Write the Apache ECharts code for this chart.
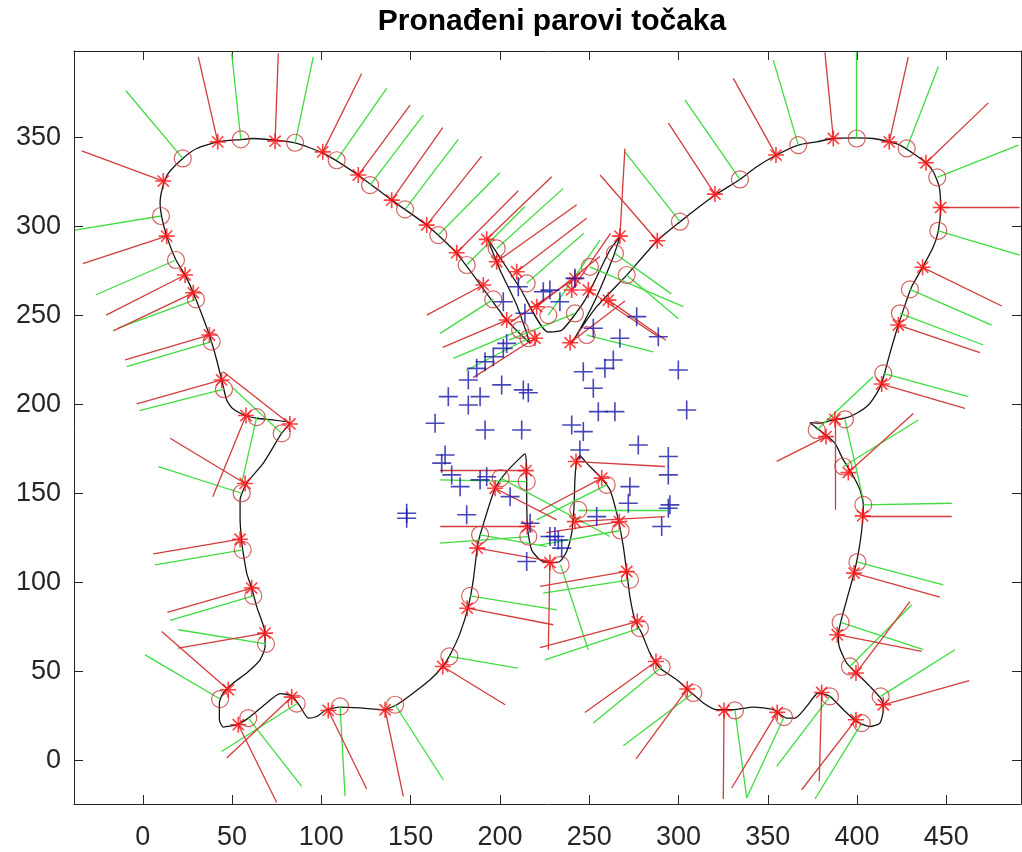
<!DOCTYPE html>
<html><head><meta charset="utf-8">
<script src="https://cdn.jsdelivr.net/npm/echarts@6/dist/echarts.min.js"></script>
<style>html,body{margin:0;padding:0;background:#fff}#c{width:1022px;height:852px}</style>
</head><body><div id="c"></div>
<script>
const titleText = 'Pronađeni parovi točaka';
const xTicks = [0,50,100,150,200,250,300,350,400,450];
const yTicks = [0,50,100,150,200,250,300,350];
const xRange = [-38.5, 491.8];
const yRange = [-24.3, 398.3];

const outline = [
[216.9,234.2],[203.8,247.3],[175.8,284.7],[159.0,300.6],[139.4,314.6],[120.7,328.6],[100.8,341.1],[85.3,346.7],[74.1,348.3],[61.9,349.2],[54.9,348.6],[42.0,347.3],[30.2,343.6],[22.4,338.0],[14.3,329.6],[11.2,322.1],[9.7,312.8],[10.6,305.2],[13.4,294.4],[18.6,281.0],[23.7,272.5],[28.3,262.6],[37.3,238.9],[41.4,224.9],[44.2,213.7],[47.0,202.4],[50.0,198.0],[57.8,193.6],[63.8,192.2],[82.5,189.4],[77.8,183.8],[67.5,167.0],[58.2,155.7],[54.5,146.4],[54.5,135.2],[55.4,123.0],[56.0,118.3],[58.2,105.3],[61.0,96.9],[63.8,86.5],[68.5,71.6],[68.5,64.1],[65.7,56.6],[58.2,49.2],[50.7,43.6],[45.1,38.0],[42.9,32.4],[42.9,23.0],[45.1,18.9],[52.6,20.2],[59.1,23.9],[69.4,32.4],[76.9,37.6],[83.4,36.5],[88.1,30.5],[92.7,23.9],[97.4,24.8],[103.0,28.6],[110.5,30.1],[121.7,29.6],[134.7,28.6],[142.2,31.4],[151.5,38.0],[160.9,45.4],[168.3,53.3],[172.1,59.4],[177.7,71.6],[182.3,86.5],[185.1,101.5],[187.3,119.3],[188.9,126.7],[197.3,152.9],[203.8,162.2],[211.2,169.8],[214.1,172.2],[215.0,163.2],[215.0,148.2],[215.6,129.5],[217.8,118.3],[222.5,112.7],[228.0,111.2],[233.6,111.8],[237.4,117.4],[240.2,127.7],[241.5,142.6],[242.0,157.6],[243.0,168.8],[244.8,171.0],[248.6,167.0],[256.0,159.4],[261.6,152.0],[266.3,135.2],[269.1,120.2],[271.0,106.2],[272.8,92.1],[275.6,79.1],[279.4,71.6],[284.0,60.4],[289.6,52.0],[299.0,45.4],[306.4,38.9],[313.9,32.4],[321.4,28.6],[330.7,28.6],[341.9,30.1],[353.1,28.6],[360.6,23.9],[365.2,23.9],[371.8,30.5],[378.3,38.0],[384.8,36.1],[392.3,28.6],[399.8,22.0],[407.2,19.2],[412.8,21.1],[414.7,28.6],[413.8,34.2],[407.2,41.7],[400.7,48.2],[394.2,54.8],[390.0,64.1],[389.5,70.7],[390.8,77.6],[394.2,90.3],[398.3,105.3],[400.7,116.5],[402.6,129.5],[403.5,143.6],[401.6,152.0],[397.0,161.3],[392.3,168.8],[387.6,178.2],[382.6,182.8],[376.4,187.5],[373.6,189.7],[379.2,189.4],[387.6,191.6],[393.2,192.2],[399.8,195.0],[406.3,199.6],[411.0,206.2],[413.8,211.8],[418.4,228.6],[423.1,244.5],[427.8,258.5],[430.6,266.0],[436.7,276.9],[442.7,288.4],[445.5,297.4],[446.8,310.5],[446.0,322.1],[442.7,330.5],[438.6,335.5],[431.5,340.8],[424.0,345.5],[418.0,347.3],[409.1,349.2],[399.8,349.5],[386.7,349.2],[377.4,347.3],[367.1,345.5],[354.6,339.8],[343.8,333.3],[334.4,326.2],[321.0,317.8],[312.0,311.2],[300.8,302.4],[288.1,291.8],[271.0,272.5],[254.2,254.8],[244.8,241.7],[240.2,234.2],[246.7,245.5],[254.2,260.4],[263.5,282.8],[267.2,294.0],[261.6,286.6],[247.6,258.5],[234.8,241.7],[226.9,240.6],[211.2,265.3],[197.3,286.6],[192.8,293.3],[200.1,275.3],[209.4,255.7],[216.9,234.2]
];

const circles = [
[22.4,338.0],[54.9,348.7],[85.3,346.8],[108.6,337.0],[127.3,323.0],[146.9,309.4],[165.5,295.0],[181.4,278.2],[198.2,287.5],[196.3,258.9],[215.0,267.9],[211.3,241.7],[227.1,250.1],[216.0,237.1],[250.4,277.2],[242.0,251.0],[248.6,238.9],[271.0,272.6],[264.4,284.7],[300.8,302.5],[334.4,326.2],[367.1,345.5],[399.8,349.2],[427.8,343.6],[444.9,327.4],[445.5,297.4],[429.6,264.5],[424.0,251.1],[414.7,217.4],[393.2,191.6],[377.4,185.6],[392.3,165.1],[403.5,143.6],[400.2,111.5],[390.8,77.6],[396.0,52.9],[413.2,36.1],[402.6,21.1],[384.8,36.1],[359.1,24.5],[331.6,28.2],[308.3,38.0],[290.6,52.6],[278.4,74.4],[272.8,101.5],[267.6,129.2],[259.8,154.8],[243.9,140.8],[234.0,109.9],[215.9,125.8],[215.0,156.6],[200.4,158.6],[188.9,126.8],[183.3,92.5],[171.7,58.5],[141.3,31.4],[110.5,30.5],[86.2,32.0],[59.1,23.9],[43.3,34.6],[69.0,65.6],[61.9,92.5],[56.0,118.3],[55.4,150.1],[63.8,192.8],[77.8,183.7],[45.5,208.5],[38.6,235.2],[29.8,258.9],[18.6,281.0],[10.2,305.7]
];
const greenEnds = [
[-9.4,376],[49.8,397],[95.5,395],[136.6,377.3],[157.1,362.3],[176.7,348.7],[200,330],[214,311],[235.5,321.2],[166.5,239.8],[247,296],[173.9,225.8],[256,292.2],[181,219],[302.7,254.8],[205,236],[285.9,229.5],[300,248],[296,262],[270,341.7],[303.7,370.7],[353.1,393.2],[399.8,397.5],[445.5,389.4],[490.3,345.5],[491,283.8],[475.4,244.5],[470.7,233.3],[462.3,204.3],[403.5,146.4],[409,215.5],[434.3,191.2],[453,144.5],[448.3,98.7],[437.1,62.3],[430.6,87.5],[454.8,62.3],[376.4,-21.5],[355,-3.2],[338.2,-20.9],[338.2,-20.9],[269.1,8.4],[252.3,21.1],[225.2,56.6],[224.3,94],[222,121],[220.6,135.2],[293.6,140.8],[249.4,62.3],[166.6,122.1],[166.6,157.6],[261.6,125.8],[226.2,120.2],[231.8,84.7],[210,52],[168.3,-10.7],[113.3,-20],[44.2,5.2],[89,-14.4],[1.3,59.4],[19.9,73.5],[15.3,78.7],[6.9,109.9],[8.7,165],[55.4,155.7],[50.5,209.2],[-1.9,196.5],[-9.0,221.1],[-13.8,242.8],[-26.2,261.5],[-37.9,297.8]
];

const stars = [
[11.5,325.3],[42.0,347.3],[74.1,347.7],[100.8,341.7],[120.7,328.7],[139.4,314.6],[159.0,300.6],[175.8,285.1],[192.6,292.6],[198.2,280.0],[190.7,267.0],[209.4,274.4],[203.8,247.3],[220.6,254.8],[219.6,237.1],[242.0,270.7],[240.2,264.2],[249.5,264.2],[239.3,234.6],[260.7,258.5],[267.2,294.4],[288.1,291.8],[320.4,318.0],[354.6,339.9],[386.7,349.2],[418.0,347.3],[438.6,335.6],[446.8,310.5],[436.7,276.9],[423.1,244.5],[413.8,211.4],[387.6,191.6],[382.6,181.9],[395.1,161.7],[403.1,137.4],[398.3,105.3],[388.9,70.7],[399.4,49.2],[414.7,31.4],[399.4,23.0],[380.2,38.3],[355.3,27.1],[325.5,28.2],[304.9,40.2],[287.4,55.7],[276.9,78.1],[271.0,106.2],[266.9,134.2],[257.0,158.6],[242.6,167.9],[242.0,134.2],[228.0,111.2],[215.3,131.4],[214.6,162.8],[197.3,152.9],[187.3,119.3],[181.7,85.6],[168.0,52.9],[135.7,28.6],[103.9,28.2],[83.4,35.7],[53.5,20.2],[47.9,39.8],[68.5,71.6],[61.0,96.9],[54.5,124.3],[57.3,155.6],[57.8,193.7],[82.4,189.0],[44.2,213.7],[37.3,238.9],[28.3,262.6],[23.7,272.6],[13.4,294.4]
];
const redEnds = [
[-34.2,342.3],[31.1,395],[75.9,397],[122.6,385.7],[149.7,367.9],[168,355.3],[189.8,339.3],[210.3,319.9],[229,327.7],[243,312],[159,250.1],[248.6,304.4],[168,232],[256,283],[185,215],[206,246],[262,296],[288.7,237.9],[270,258],[293,236],[270,343.6],[256.1,328.7],[294.3,358],[330.7,382.9],[382,397.5],[428.7,395],[473.5,369.2],[491,310.5],[481,255.2],[468.8,229],[460.4,197.8],[387.6,140.8],[355,168],[431.5,194.9],[453,137.4],[446.4,91.8],[436.2,61.3],[429.6,89.3],[462.8,45],[369,-16.3],[378.8,-11.6],[329.8,-15.3],[325.1,-21.5],[276.2,1],[247.6,27.1],[222.5,63.4],[222.5,97.8],[226,128],[222,140],[292.4,165.1],[292.4,137],[227.1,62.3],[166.6,131.4],[166.6,162.8],[231.8,135.2],[228,112],[229.9,76.3],[202.9,31.4],[145.9,-20],[125.4,-15.9],[47,1.5],[75,-23.5],[10.6,72.5],[19.9,63.2],[13.8,83.2],[5.9,116.1],[15.3,181],[39.2,148.2],[45,218.3],[-3.4,200.2],[-9.9,224.9],[-16.5,241.2],[-20.5,250.1],[-33.6,279]
];

const pluses = [
[210.3,266.0],[224.3,263.2],[228.0,264.1],[233.6,257.6],[201.9,257.6],[214.0,251.1],[276.6,249.2],[288.7,237.9],[267.2,237.1],[252.3,242.7],[203.8,234.2],[201.9,231.4],[196.3,226.7],[191.7,223.9],[187.0,220.2],[182.3,213.7],[201.0,210.9],[213.1,208.1],[215.9,206.5],[171.1,204.3],[188.9,204.3],[246.7,218.3],[258.8,220.2],[263.5,224.9],[299.9,219.3],[252.3,209.0],[242.0,270.7],[182.3,199.6],[255.1,195.9],[264.4,195.9],[304.6,196.8],[163.7,189.4],[191.7,185.6],[212.2,185.6],[240.2,188.4],[246.7,184.7],[277.5,177.2],[244.8,174.4],[169.3,171.6],[167.4,167.0],[294.3,170.7],[294.3,160.4],[173.0,160.4],[177.7,153.8],[188.9,157.6],[192.6,159.4],[205.7,148.2],[272.8,153.8],[271.9,144.5],[295.2,143.6],[294.3,141.7],[147.8,138.9],[147.8,136.1],[181.4,138.0],[254.2,137.0],[290.6,131.4],[228.0,125.8],[230.8,125.8],[232.7,123.9],[234.6,119.3],[215.0,111.8],[216.9,133.3]
];

const chart = echarts.init(document.getElementById('c'), null, {renderer: 'canvas'});
const axisCol = '#262626';
const lab = {fontFamily: 'Liberation Sans', fontSize: 27, color: '#262626'};
function segs(a, b) { return a.map((p, i) => ({coords: [p, b[i]]})); }
const starPath = 'path://M0,-10L0,10M-10,0L10,0M-7,-7L7,7M-7,7L7,-7';
const plusPath = 'path://M0,-10L0,10M-10,0L10,0';
function ax(type, pos, ticks, range, showLabel, margin) {
  return {type: 'value', min: range[0], max: range[1], position: pos,
    axisLine: {show: true, onZero: false, lineStyle: {color: axisCol, width: 1}},
    axisTick: {show: true, inside: true, length: 9, customValues: ticks, lineStyle: {color: axisCol}},
    axisLabel: showLabel ? {show: true, customValues: ticks, margin: margin, ...lab} : {show: false},
    splitLine: {show: false}};
}

chart.setOption({
  animation: false,
  backgroundColor: '#fff',
  title: {text: titleText, left: 547, textAlign: 'center', top: 2,
    textStyle: {fontFamily: 'Liberation Sans', fontWeight: 'bold', fontSize: 30, color: '#000'}},
  grid: {left: 74, right: 1, top: 51, bottom: 48, containLabel: false},
  xAxis: [ax('x', 'bottom', xTicks, xRange, true, 20), ax('x', 'top', xTicks, xRange, false)],
  yAxis: [ax('y', 'left', yTicks, yRange, true, 13), ax('y', 'right', yTicks, yRange, false)],
  series: [
    {type: 'line', data: outline, smooth: 0.2, showSymbol: false, symbol: 'none',
     lineStyle: {color: '#151515', width: 1.3}, silent: true, z: 2},
    {type: 'lines', coordinateSystem: 'cartesian2d', data: segs(circles, greenEnds),
     lineStyle: {color: '#3fdc3f', width: 1.3, opacity: 1}, silent: true, z: 3},
    {type: 'lines', coordinateSystem: 'cartesian2d', data: segs(stars, redEnds),
     lineStyle: {color: '#d23c3c', width: 1.3, opacity: 1}, silent: true, z: 4},
    {type: 'scatter', data: circles, symbol: 'circle', symbolSize: 17,
     itemStyle: {color: 'rgba(0,0,0,0)', borderColor: '#c83c3c', borderWidth: 1.2}, silent: true, z: 5},
    {type: 'scatter', data: stars, symbol: starPath, symbolSize: 16,
     itemStyle: {color: 'rgba(0,0,0,0)', borderColor: '#ff1010', borderWidth: 1.6}, silent: true, z: 6},
    {type: 'scatter', data: pluses, symbol: plusPath, symbolSize: 19,
     itemStyle: {color: 'rgba(0,0,0,0)', borderColor: '#1818a8', borderWidth: 1.6}, silent: true, z: 7}
  ]
});
</script></body></html>
